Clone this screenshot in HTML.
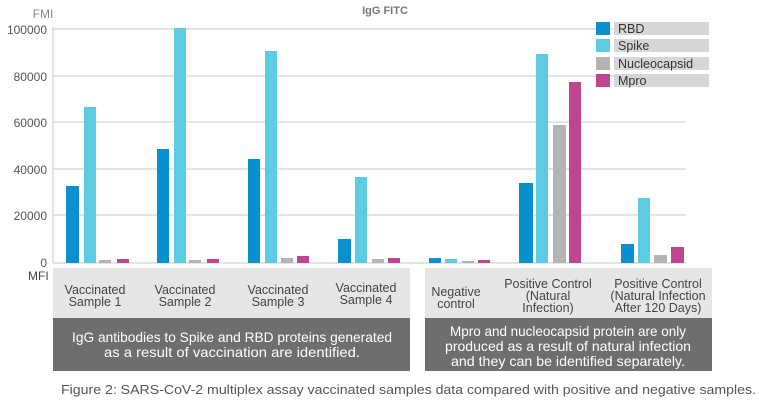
<!DOCTYPE html>
<html><head><meta charset="utf-8"><style>
body{margin:0;background:#fff;}
svg{display:block;font-family:"Liberation Sans Narrow","Liberation Sans",sans-serif;}
</style></head><body>
<svg width="759" height="402" viewBox="0 0 759 402" xmlns="http://www.w3.org/2000/svg">
<rect width="759" height="402" fill="#fff"/>
<text x="385" y="14" font-size="11" fill="#777" text-anchor="middle" font-weight="bold">IgG FITC</text>
<text x="43" y="18" font-size="12" fill="#888" text-anchor="middle">FMI</text>
<g stroke="#c8c8c8" stroke-width="1">
<line x1="53" y1="29" x2="686" y2="29"/><line x1="53" y1="76" x2="686" y2="76"/>
<line x1="53" y1="122" x2="686" y2="122"/><line x1="53" y1="169" x2="686" y2="169"/>
<line x1="53" y1="215" x2="686" y2="215"/><line x1="53" y1="263" x2="686" y2="263"/>
<line x1="53" y1="27" x2="53" y2="263"/>
</g>
<g font-size="12" fill="#555" text-anchor="end">
<text x="47" y="34">100000</text><text x="47" y="81">80000</text><text x="47" y="127">60000</text>
<text x="47" y="174">40000</text><text x="47" y="220">20000</text><text x="47" y="267">0</text>
</g>
<g>
<rect x="66" y="186" width="13" height="77" fill="#0a8fcf"/><rect x="84" y="107" width="12" height="156" fill="#5ccbe3"/><rect x="99" y="260" width="12" height="3" fill="#b4b4b4"/><rect x="117" y="259" width="12" height="4" fill="#c04590"/>
<rect x="157" y="149" width="12" height="114" fill="#0a8fcf"/><rect x="174" y="28" width="12" height="235" fill="#5ccbe3"/><rect x="189" y="260" width="12" height="3" fill="#b4b4b4"/><rect x="207" y="259" width="12" height="4" fill="#c04590"/>
<rect x="248" y="159" width="12" height="104" fill="#0a8fcf"/><rect x="265" y="51" width="12" height="212" fill="#5ccbe3"/><rect x="281" y="258" width="12" height="5" fill="#b4b4b4"/><rect x="297" y="256" width="12" height="7" fill="#c04590"/>
<rect x="338" y="239" width="13" height="24" fill="#0a8fcf"/><rect x="355" y="177" width="12" height="86" fill="#5ccbe3"/><rect x="372" y="259" width="12" height="4" fill="#b4b4b4"/><rect x="388" y="258" width="12" height="5" fill="#c04590"/>
<rect x="429" y="258" width="12" height="5" fill="#0a8fcf"/><rect x="445" y="259" width="12" height="4" fill="#5ccbe3"/><rect x="462" y="261" width="12" height="2" fill="#b4b4b4"/><rect x="478" y="260" width="12" height="3" fill="#c04590"/>
<rect x="519" y="183" width="14" height="80" fill="#0a8fcf"/><rect x="536" y="54" width="12" height="209" fill="#5ccbe3"/><rect x="553" y="125" width="13" height="138" fill="#b4b4b4"/><rect x="569" y="82" width="12" height="181" fill="#c04590"/>
<rect x="621" y="244" width="13" height="19" fill="#0a8fcf"/><rect x="638" y="198" width="12" height="65" fill="#5ccbe3"/><rect x="654" y="255" width="13" height="8" fill="#b4b4b4"/><rect x="671" y="247" width="13" height="16" fill="#c04590"/>
</g>
<g font-size="12.5" fill="#333">
<rect x="596" y="22" width="14" height="13" fill="#0a8fcf"/><rect x="614" y="22" width="95" height="13" fill="#d6d6d6"/><text x="618" y="33">RBD</text>
<rect x="596" y="39" width="14" height="13" fill="#5ccbe3"/><rect x="614" y="39" width="95" height="13" fill="#d6d6d6"/><text x="618" y="50">Spike</text>
<rect x="596" y="57" width="14" height="13" fill="#b4b4b4"/><rect x="614" y="57" width="95" height="13" fill="#d6d6d6"/><text x="618" y="68">Nucleocapsid</text>
<rect x="596" y="74" width="14" height="13" fill="#c04590"/><rect x="614" y="74" width="95" height="13" fill="#d6d6d6"/><text x="618" y="85">Mpro</text>
</g>
<text x="28" y="280" font-size="12" fill="#444">MFI</text>
<rect x="53" y="268" width="357" height="50" fill="#e6e6e6"/>
<rect x="425" y="268" width="287" height="50" fill="#e6e6e6"/>
<rect x="53" y="318" width="357" height="53" fill="#6e6e6e"/>
<rect x="425" y="318" width="287" height="53" fill="#6e6e6e"/>
<g font-size="12.5" fill="#444" text-anchor="middle">
<text x="95" y="294">Vaccinated</text><text x="95" y="306">Sample 1</text>
<text x="185" y="294">Vaccinated</text><text x="185" y="306">Sample 2</text>
<text x="278" y="294">Vaccinated</text><text x="278" y="306">Sample 3</text>
<text x="366" y="292">Vaccinated</text><text x="366" y="304">Sample 4</text>
<text x="456" y="296">Negative</text><text x="456" y="308">control</text>
<text x="548" y="288">Positive Control</text><text x="548" y="300">(Natural</text><text x="548" y="312">Infection)</text>
<text x="658" y="288">Positive Control</text><text x="658" y="300">(Natural Infection</text><text x="658" y="312">After 120 Days)</text>
</g>
<g font-size="14" fill="#fff" text-anchor="middle">
<text x="232" y="342" textLength="320" lengthAdjust="spacingAndGlyphs">IgG antibodies to Spike and RBD proteins generated</text>
<text x="232" y="357" textLength="256" lengthAdjust="spacingAndGlyphs">as a result of vaccination are identified.</text>
<text x="568" y="336" textLength="236" lengthAdjust="spacingAndGlyphs">Mpro and nucleocapsid protein are only</text>
<text x="568" y="351" textLength="246" lengthAdjust="spacingAndGlyphs">produced as a result of natural infection</text>
<text x="568" y="366" textLength="234" lengthAdjust="spacingAndGlyphs">and they can be identified separately.</text>
</g>
<text x="61" y="394" font-size="13" fill="#555" textLength="695" lengthAdjust="spacingAndGlyphs">Figure 2: SARS-CoV-2 multiplex assay vaccinated samples data compared with positive and negative samples.</text>
</svg>
</body></html>
